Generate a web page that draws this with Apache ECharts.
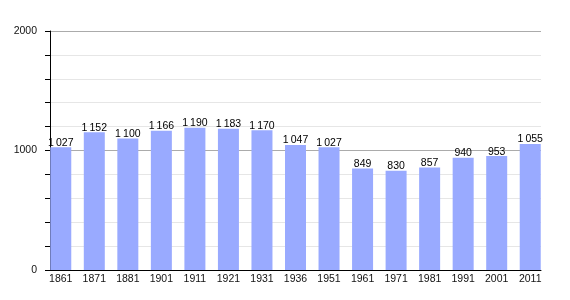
<!DOCTYPE html>
<html><head><meta charset="utf-8">
<script src="https://cdn.jsdelivr.net/npm/echarts@6/dist/echarts.min.js"></script>
<style>html,body{margin:0;padding:0;background:#fff}#c{width:570px;height:300px}</style>
</head><body><div id="c"></div>
<script>
const years = ['1861','1871','1881','1901','1911','1921','1931','1936','1951','1961','1971','1981','1991','2001','2011'];
const population = [1027,1152,1100,1166,1190,1183,1170,1047,1027,849,830,857,940,953,1055];
const yTickLabels = [0,1000,2000];

function fmt(v){
  const s = String(v);
  return v >= 1000 ? s.slice(0, s.length-3) + '\u2009' + s.slice(-3) : s;
}
const chart = echarts.init(document.getElementById('c'));
const font = 'Liberation Sans, Arial, sans-serif';
chart.setOption({
  animation:false,
  grid:[
    {left:50,right:29,top:31,bottom:30},
    {left:44,right:23,top:31,bottom:30}
  ],
  xAxis:[
    {gridIndex:0,type:'value',min:0,max:1,axisLine:{show:true,lineStyle:{color:'#000',width:1}},axisTick:{show:false},axisLabel:{show:false},splitLine:{show:false}},
    {gridIndex:1,type:'category',data:years,axisLine:{show:false},axisTick:{show:false},
     axisLabel:{fontSize:10.5,color:'#111',fontFamily:font,margin:4}}
  ],
  yAxis:[
    {gridIndex:0,type:'value',min:0,max:2000,interval:200,
     axisLine:{show:true,lineStyle:{color:'#000',width:1}},
     axisTick:{show:true,length:5,lineStyle:{color:'#000'}},
     axisLabel:{fontSize:10.5,color:'#111',fontFamily:font,margin:13,
       formatter:v=>yTickLabels.includes(v)?String(v):''},
     splitLine:{show:true,lineStyle:{color:['#ababab','#e6e6e6','#e6e6e6','#e6e6e6','#e6e6e6'],width:1}}},
    {gridIndex:1,type:'value',min:0,max:2000,show:false,splitLine:{show:false}}
  ],
  series:[{
    type:'bar',xAxisIndex:1,yAxisIndex:1,data:population,barWidth:21,
    itemStyle:{color:'#99aaff'},
    label:{show:true,position:'top',distance:-1,fontSize:10.5,color:'#000',fontFamily:font,formatter:p=>fmt(p.value)}
  }]
});
</script></body></html>
